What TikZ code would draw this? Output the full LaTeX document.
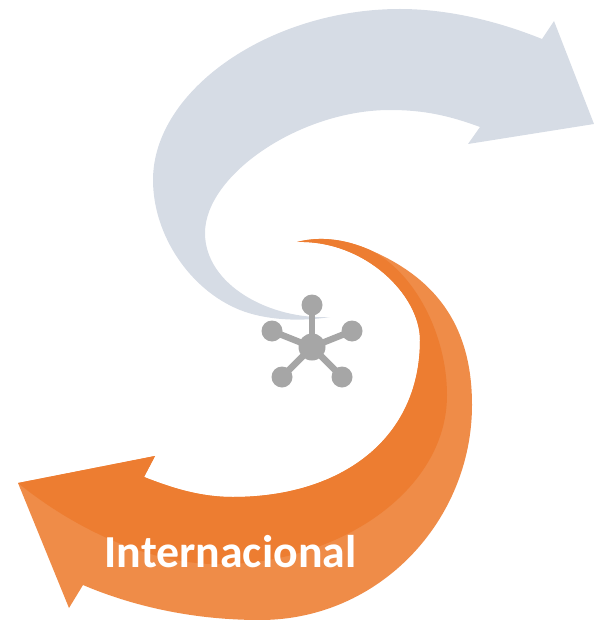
\documentclass[tikz,border=0pt]{standalone}
\usepackage{fontspec}
\setmainfont{Carlito}
\definecolor{bluearrow}{HTML}{D6DCE5}
\definecolor{orangedark}{HTML}{ED7D31}
\definecolor{orangelight}{HTML}{EF8C48}
\definecolor{hubgray}{HTML}{A6A6A6}
\tikzset{hubdot/.style={circle,fill=hubgray,inner sep=0pt,minimum size=21bp},
hubcentre/.style={circle,fill=hubgray,inner sep=0pt,minimum size=27bp},
spoke/.style={draw=hubgray,line width=6.5bp}}
\begin{document}
\begin{tikzpicture}[x=1bp,y=-1bp]
\useasboundingbox (0,0) rectangle (594,620);
% blue arrow
\fill[bluearrow] (330,317) .. controls (300,322) and (265,320) .. (240,310)
 .. controls (190,290) and (153,235) .. (153,180)
 .. controls (153,90) and (270,9) .. (400,9)
 .. controls (450,9) and (500,22) .. (542,39)
 -- (554,21) -- (594,124) -- (468,144) -- (480,127)
 .. controls (450,116) and (425,110) .. (390,110)
 .. controls (300,110) and (205,175) .. (205,233)
 .. controls (205,285) and (270,320) .. (330,317) -- cycle;
% orange arrow, light band
\fill[orangelight] (297,242) .. controls (320,236) and (345,239) .. (370,250)
 .. controls (440,280) and (472,330) .. (472,405)
 .. controls (472,520) and (380,620) .. (260,620)
 .. controls (190,620) and (130,605) .. (83,585)
 -- (69,608) -- (18,483) -- (155,456) -- (144,477)
 .. controls (172,488) and (200,497) .. (233,497)
 .. controls (340,497) and (420,440) .. (420,340)
 .. controls (420,295) and (365,240) .. (297,242) -- cycle;
% orange arrow, dark band
\fill[orangedark] (297,242) .. controls (320,236) and (345,239) .. (370,250)
 .. controls (415,272) and (447,335) .. (447,395)
 .. controls (447,495) and (330,568) .. (210,564)
 .. controls (140,561) and (70,525) .. (18,483)
 -- (155,456) -- (144,477)
 .. controls (172,488) and (200,497) .. (233,497)
 .. controls (340,497) and (420,440) .. (420,340)
 .. controls (420,295) and (365,240) .. (297,242) -- cycle;
% hub
\node[hubcentre] (hub) at (312,347) {};
\node[hubdot] (n1) at (312,305) {};
\node[hubdot] (n2) at (272,331) {};
\node[hubdot] (n3) at (352,331) {};
\node[hubdot] (n4) at (282,377) {};
\node[hubdot] (n5) at (342,377) {};
\foreach \n in {n1,n2,n3,n4,n5} \draw[spoke] (hub.center) -- (\n.center);
\node[text=white,font=\bfseries\fontsize{46}{46}\selectfont,inner sep=0pt,anchor=base] (label) at (230.5,567) {Internacional};
\end{tikzpicture}
\end{document}
